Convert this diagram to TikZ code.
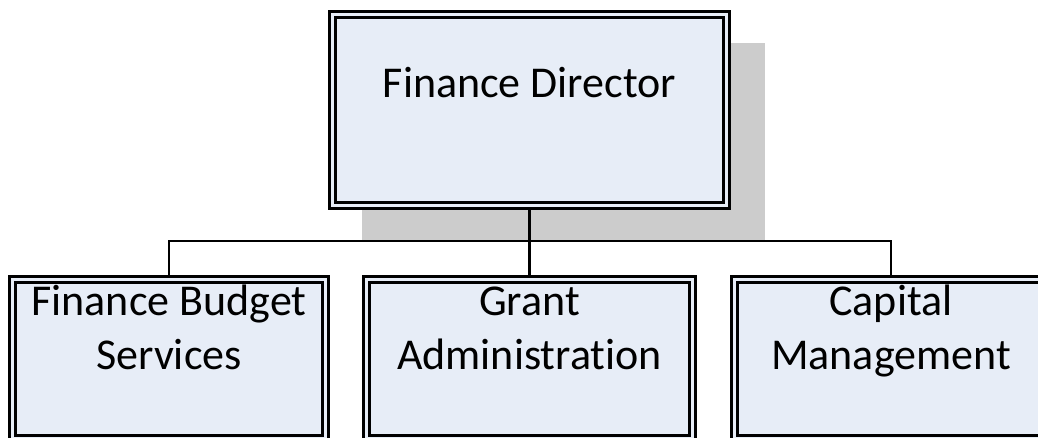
\documentclass[tikz,border=0pt]{standalone}
\usepackage{fontspec}
\setmainfont{Carlito}[Ligatures=NoCommon]
\usetikzlibrary{positioning,calc,backgrounds}
\definecolor{orgfill}{RGB}{231,237,247}
\definecolor{orggray}{RGB}{204,204,204}

\begin{document}
\begin{tikzpicture}[x=1pt, y=1pt,
    orgbox/.style={rectangle, draw=black, line width=3pt, double=orgfill,
        double distance=3pt, fill=orgfill, inner sep=0pt, outer sep=0pt},
    headbox/.style={orgbox, minimum width=394pt, minimum height=191pt},
    unitbox/.style={orgbox, minimum width=313pt, minimum height=158.5pt},
    orgtext/.style={align=center, font=\fontsize{44}{54}\selectfont,
        inner sep=0pt, anchor=base},
    conn/.style={draw=black, line width=2.5pt}
]
    \useasboundingbox (0,0) rectangle (1038,-437);

    % boxes
    \node[headbox] (fd) at (529.5,-110) {};
    \node[unitbox] (fbs) at (169,-358.75) {};
    \node[unitbox, minimum width=326pt] (ga) at (529.5,-358.75) {};
    \node[unitbox] (cm) at (891,-358.75) {};

    % texts (base = last line)
    \node[orgtext] (fdtext) at ($(fd.north)+(0,-82.5)$) {Finance Director};
    \node[orgtext] (fbstext) at ($(fbs.north)+(0,-90)$) {Finance Budget\\Services};
    \node[orgtext] (gatext) at ($(ga.north)+(0,-90)$) {Grant\\Administration};
    \node[orgtext] (cmtext) at ($(cm.north)+(0,-90)$) {Capital\\Management};

    \coordinate (bus) at (529.5,-241);

    \begin{scope}[on background layer]
        \fill[orggray] ($(fd.north west)+(29.5,-28.5)$) rectangle ($(fd.south east)+(38.5,-34.5)$);
        \draw[conn] (fd.south) -- (bus);
        \draw[conn] (fbs.north) |- (bus) -| (cm.north);
        \draw[conn] (bus) -- (ga.north);
    \end{scope}
\end{tikzpicture}
\end{document}
